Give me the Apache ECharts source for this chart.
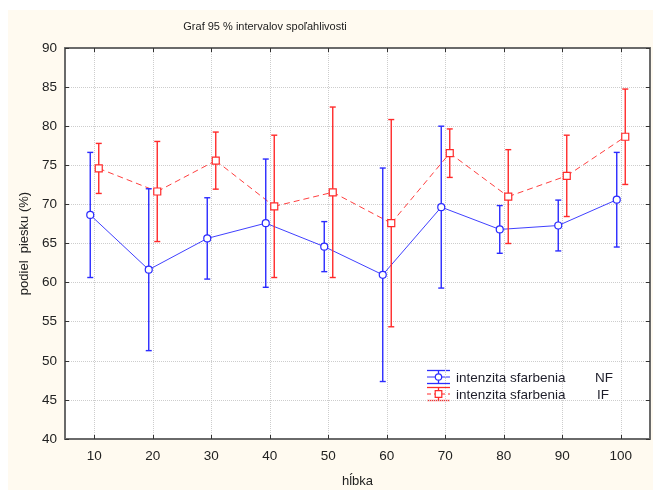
<!DOCTYPE html>
<html><head><meta charset="utf-8">
<script src="https://cdn.jsdelivr.net/npm/echarts@6/dist/echarts.min.js"></script>
<style>html,body{margin:0;padding:0;background:#fff}#c{width:653px;height:490px}</style>
</head><body><div id="c"></div>
<script>
const categories = ['10','20','30','40','50','60','70','80','90','100'];
const nfMean = [68.65, 61.65, 65.65, 67.6, 64.6, 61.0, 69.65, 66.8, 67.3, 70.6];
const nfHalf = [8.0, 10.35, 5.2, 8.2, 3.2, 13.65, 10.35, 3.05, 3.25, 6.05];
const ifMean = [74.6, 71.65, 75.6, 69.75, 71.55, 67.6, 76.55, 71.0, 73.65, 78.65];
const ifHalf = [3.2, 6.4, 3.65, 9.1, 10.9, 13.25, 3.1, 6.0, 5.2, 6.1];
const yTicks = [40,45,50,55,60,65,70,75,80,85,90];

const FONT = 'Liberation Sans, Arial, sans-serif';
const BLUE = '#2b2bff', RED = '#ff2a2a';
const chart = echarts.init(document.getElementById('c'), null, {renderer:'canvas'});

function errSeries(name, means, halves, color, offset, marker) {
  const data = means.map((m,i)=>[i, m, m-halves[i], m+halves[i]]);
  return {
    type:'custom', name, data, z:5,
    encode:{x:0, y:[1,2,3]},
    renderItem(params, api){
      const i = api.value(0);
      const p = api.coord([i, api.value(1)]);
      const lo = api.coord([i, api.value(2)]);
      const hi = api.coord([i, api.value(3)]);
      const x = p[0] + offset;
      const st = {stroke: color, lineWidth: 1.4};
      const children = [
        {type:'line', shape:{x1:x,y1:lo[1],x2:x,y2:hi[1]}, style:st},
        {type:'line', shape:{x1:x-3,y1:lo[1],x2:x+3,y2:lo[1]}, style:st},
        {type:'line', shape:{x1:x-3,y1:hi[1],x2:x+3,y2:hi[1]}, style:st}
      ];
      if (i < means.length-1) {
        const q = api.coord([i+1, means[i+1]]);
        children.push({type:'line', shape:{x1:x,y1:p[1],x2:q[0]+offset,y2:q[1]},
          style:{stroke: color, lineWidth:1, lineDash: marker==='circle'?null:[6,4], opacity:0.9}, z2:-1});
      }
      if (marker==='circle') children.push({type:'circle', shape:{cx:x,cy:p[1],r:3.5}, style:{fill:'#fff', stroke:color, lineWidth:1.2}});
      else children.push({type:'rect', shape:{x:x-3.5,y:p[1]-3.5,width:7,height:7}, style:{fill:'#fff', stroke:color, lineWidth:1.2}});
      return {type:'group', children};
    }
  };
}

const axisLine = {show:true, lineStyle:{color:'#6a6a6a', width:2}};
const tick = {show:true, inside:true, length:4, lineStyle:{color:'#333', width:1}};
const grid = {show:true, lineStyle:{color:'#cdcdcd', type:'dotted', width:1}};

const legendItems = [];
function legendIcon(y, color, marker) {
  const x0 = 427, x1 = 450, cx = 438.5;
  const st = {stroke: color, lineWidth: 1.3};
  legendItems.push(
    {type:'line', shape:{x1:x0,y1:y-6.5,x2:x1,y2:y-6.5}, style:st},
    {type:'line', shape:{x1:x0,y1:y+6.5,x2:x1,y2:y+6.5}, style:st},
    {type:'line', shape:{x1:cx,y1:y-6.5,x2:cx,y2:y+6.5}, style:st},
    {type:'line', shape:{x1:x0,y1:y,x2:x1,y2:y}, style:{stroke:color,lineWidth:1,lineDash: marker==='circle'?null:[4,3]}},
    marker==='circle'
      ? {type:'circle', shape:{cx,cy:y,r:3.2}, style:{fill:'#fff',stroke:color,lineWidth:1.2}}
      : {type:'rect', shape:{x:cx-3.3,y:y-3.3,width:6.6,height:6.6}, style:{fill:'#fff',stroke:color,lineWidth:1.2}}
  );
}
legendIcon(377, BLUE, 'circle');
legendIcon(394, RED, 'square');
const txt = (x,y,t)=>({type:'text', x, y, style:{text:t, font:'13.5px '+FONT, fill:'#1e1e2a', textVerticalAlign:'middle'}, z:10});
legendItems.push(
  txt(456, 378, 'intenzita sfarbenia'),
  txt(595, 378, 'NF'),
  txt(456, 395, 'intenzita sfarbenia'),
  txt(597, 395, 'IF')
);

chart.setOption({
  animation:false,
  backgroundColor:'#fff',
  textStyle:{fontFamily:FONT},
  grid:{left:65, right:3, top:48, bottom:51, show:true, backgroundColor:'#fff', borderWidth:0, containLabel:false, outerBoundsMode:'none'},
  graphic:[
    {type:'rect', shape:{x:8,y:10,width:645,height:480}, style:{fill:'#fffaf0'}, z:-10, silent:true},
    {type:'text', x:265, y:27, style:{text:'Graf 95 % intervalov spoľahlivosti', font:'11px '+FONT, fill:'#222', textAlign:'center', textVerticalAlign:'middle'}},
    ...legendItems
  ],
  xAxis:[
    {type:'category', data:categories, boundaryGap:true, position:'bottom',
     name:'hĺbka', nameLocation:'middle', nameGap:36, nameTextStyle:{fontSize:13, color:'#222'},
     axisLine, axisTick:Object.assign({alignWithLabel:true}, tick),
     axisLabel:{fontSize:13.5, color:'#222', margin:10},
     splitLine:Object.assign({alignWithLabel:true}, grid)},
    {type:'category', data:categories, boundaryGap:true, position:'top',
     axisLine, axisTick:Object.assign({alignWithLabel:true}, tick), axisLabel:{show:false}, splitLine:{show:false}}
  ],
  yAxis:[
    {type:'value', min:40, max:90, interval:5, position:'left',
     name:'podiel  piesku (%)', nameLocation:'middle', nameGap:28, nameTextStyle:{fontSize:13, color:'#222'},
     axisLine, axisTick:tick, axisLabel:{fontSize:13.5, color:'#222', margin:8}, splitLine:grid},
    {type:'value', min:40, max:90, interval:5, position:'right',
     axisLine, axisTick:tick, axisLabel:{show:false}, splitLine:{show:false}}
  ],
  series:[
    errSeries('intenzita sfarbenia NF', nfMean, nfHalf, BLUE, -4, 'circle'),
    errSeries('intenzita sfarbenia IF', ifMean, ifHalf, RED, 4.5, 'square')
  ]
});
</script></body></html>
